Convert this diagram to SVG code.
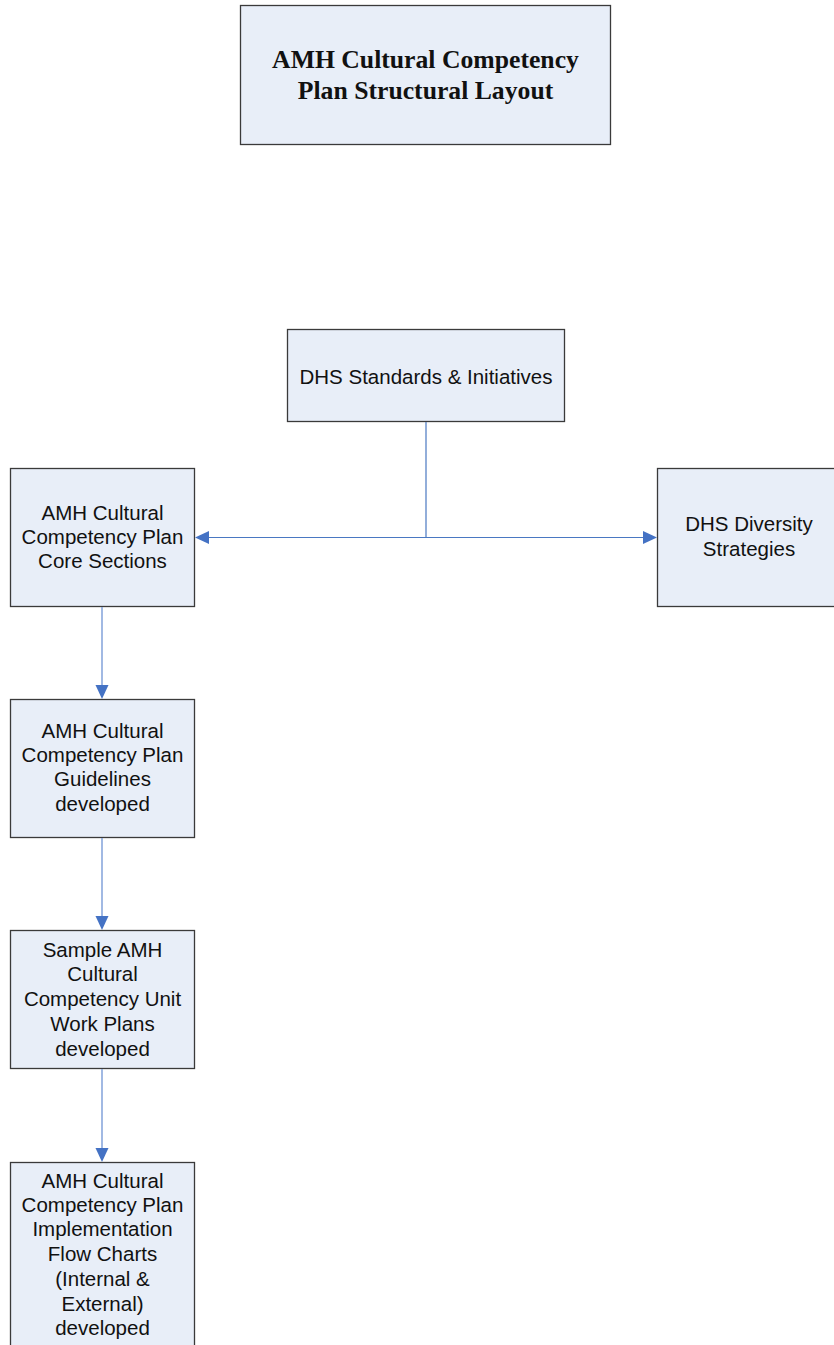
<svg xmlns="http://www.w3.org/2000/svg" width="834" height="1345" viewBox="0 0 834 1345">
<style>
.box{fill:#e8eef8;stroke:#3a3a3a;stroke-width:1.3}
.t{font-family:"Liberation Sans",Arial,sans-serif;font-size:20.5px;fill:#111;text-anchor:middle}
.title{font-family:"Liberation Serif","Times New Roman",serif;font-size:25.7px;font-weight:bold;fill:#111;text-anchor:middle}
.c{stroke:#4a78c2;stroke-width:1.2;fill:none}
.cv{stroke:#8aa8dc;stroke-width:1.6;fill:none}
.ah{fill:#4472c4}
</style>
<rect width="834" height="1345" fill="#fff"/>
<g id="title">
<rect class="box" x="240.5" y="5.5" width="370" height="139"/>
<text class="title" x="425.5" y="68">AMH Cultural Competency</text>
<text class="title" x="425.5" y="99">Plan Structural Layout</text>
</g>
<g id="dhs-standards">
<rect class="box" x="287.5" y="329.5" width="277" height="92"/>
<text class="t" x="426" y="384">DHS Standards &amp; Initiatives</text>
</g>
<g id="core-sections">
<rect class="box" x="10.5" y="468.5" width="184" height="138"/>
<text class="t" x="102.5" y="520">AMH Cultural</text>
<text class="t" x="102.5" y="544">Competency Plan</text>
<text class="t" x="102.5" y="568">Core Sections</text>
</g>
<g id="dhs-diversity">
<rect class="box" x="657.5" y="468.5" width="190" height="138"/>
<text class="t" x="749" y="531">DHS Diversity</text>
<text class="t" x="749" y="556">Strategies</text>
</g>
<g id="guidelines">
<rect class="box" x="10.5" y="699.5" width="184" height="138"/>
<text class="t" x="102.5" y="738">AMH Cultural</text>
<text class="t" x="102.5" y="762">Competency Plan</text>
<text class="t" x="102.5" y="786">Guidelines</text>
<text class="t" x="102.5" y="811">developed</text>
</g>
<g id="work-plans">
<rect class="box" x="10.5" y="930.5" width="184" height="138"/>
<text class="t" x="102.5" y="957">Sample AMH</text>
<text class="t" x="102.5" y="981">Cultural</text>
<text class="t" x="102.5" y="1006">Competency Unit</text>
<text class="t" x="102.5" y="1031">Work Plans</text>
<text class="t" x="102.5" y="1056">developed</text>
</g>
<g id="flow-charts">
<rect class="box" x="10.5" y="1162.5" width="184" height="200"/>
<text class="t" x="102.5" y="1188">AMH Cultural</text>
<text class="t" x="102.5" y="1212">Competency Plan</text>
<text class="t" x="102.5" y="1236">Implementation</text>
<text class="t" x="102.5" y="1261">Flow Charts</text>
<text class="t" x="102.5" y="1286">(Internal &amp;</text>
<text class="t" x="102.5" y="1311">External)</text>
<text class="t" x="102.5" y="1335">developed</text>
</g>
<g id="connectors">
<line class="c" x1="426" y1="422" x2="426" y2="537.5"/>
<line class="c" x1="206" y1="537.5" x2="645" y2="537.5"/>
<polygon class="ah" points="195,537.5 209,531 209,544"/>
<polygon class="ah" points="657,537.5 643,531 643,544"/>
<line class="cv" x1="102" y1="607" x2="102" y2="688"/>
<polygon class="ah" points="102,699 95.5,685 108.5,685"/>
<line class="cv" x1="102" y1="838" x2="102" y2="919"/>
<polygon class="ah" points="102,930 95.5,916 108.5,916"/>
<line class="cv" x1="102" y1="1069" x2="102" y2="1151"/>
<polygon class="ah" points="102,1162 95.5,1148 108.5,1148"/>
</g>
</svg>
